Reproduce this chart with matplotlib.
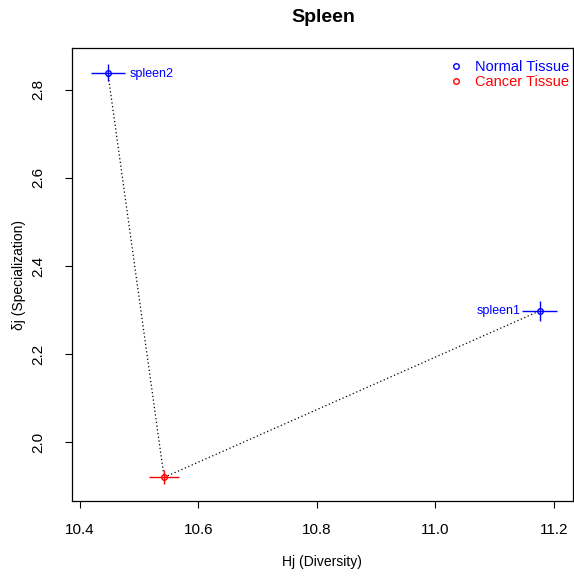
import matplotlib
matplotlib.use('Agg')
import matplotlib.pyplot as plt

plt.rcParams['font.family'] = ['Liberation Sans', 'DejaVu Sans']

# data
names = ['spleen2', 'spleen1']
normal_x = [10.447, 11.176]
normal_y = [2.839, 2.298]
normal_xerr = [0.029, 0.030]
normal_yerr = [0.019, 0.022]

cancer_x = [10.542]
cancer_y = [1.920]
cancer_xerr = [0.025]
cancer_yerr = [0.016]

x_ticks = [10.4, 10.6, 10.8, 11.0, 11.2]
y_ticks = [2.0, 2.2, 2.4, 2.6, 2.8]

fig = plt.figure(figsize=(5.74, 5.76), dpi=100)
ax = fig.add_axes([0.1254, 0.130, 0.8726, 0.7867])

# dotted path normal -> cancer -> normal
ax.plot([normal_x[0], cancer_x[0], normal_x[1]],
        [normal_y[0], cancer_y[0], normal_y[1]],
        color='black', linestyle=(0, (1, 2)), linewidth=0.9, zorder=1)

ax.errorbar(normal_x, normal_y, xerr=normal_xerr, yerr=normal_yerr,
            fmt='o', mfc='none', mec='blue', ecolor='blue', ms=4, mew=1,
            elinewidth=1, capsize=0, zorder=3)
ax.errorbar(cancer_x, cancer_y, xerr=cancer_xerr, yerr=cancer_yerr,
            fmt='o', mfc='none', mec='red', ecolor='red', ms=4, mew=1,
            elinewidth=1, capsize=0, zorder=3)

ax.annotate(names[0], (normal_x[0], normal_y[0]), xytext=(16, -1),
            textcoords='offset points', ha='left', va='center',
            color='blue', fontsize=9)
ax.annotate(names[1], (normal_x[1], normal_y[1]), xytext=(-14, 0),
            textcoords='offset points', ha='right', va='center',
            color='blue', fontsize=9)

ax.set_xlim(10.3865, 11.232)
ax.set_ylim(1.866, 2.895)
ax.set_xticks(x_ticks)
ax.set_xticklabels(['%.1f' % v for v in x_ticks])
ax.set_yticks(y_ticks)
ax.set_yticklabels(['%.1f' % v for v in y_ticks], rotation=90, va='center')
ax.tick_params(direction='out', length=5, width=0.8, labelsize=11)
ax.tick_params(axis='x', pad=11)
ax.tick_params(axis='y', pad=14)
for sp in ax.spines.values():
    sp.set_linewidth(0.9)

ax.set_xlabel('Hj (Diversity)', fontsize=10, labelpad=13)
ax.set_ylabel('δj (Specialization)', fontsize=10, labelpad=4)
fig.text(0.564, 0.970, 'Spleen', ha='center', va='center',
         fontsize=14, fontweight='bold')

# legend
ax.plot([], [], 'o', mfc='none', mec='blue', ms=4, label='Normal Tissue')
ax.plot([], [], 'o', mfc='none', mec='red', ms=4, label='Cancer Tissue')
leg = ax.legend(loc='upper right', frameon=False, fontsize=10.5,
                handletextpad=0.7, borderaxespad=0, labelspacing=0.12,
                handlelength=1.2, bbox_to_anchor=(1.005, 0.987))
for txt, c in zip(leg.get_texts(), ['blue', 'red']):
    txt.set_color(c)

fig.savefig('out.png', dpi=100)
